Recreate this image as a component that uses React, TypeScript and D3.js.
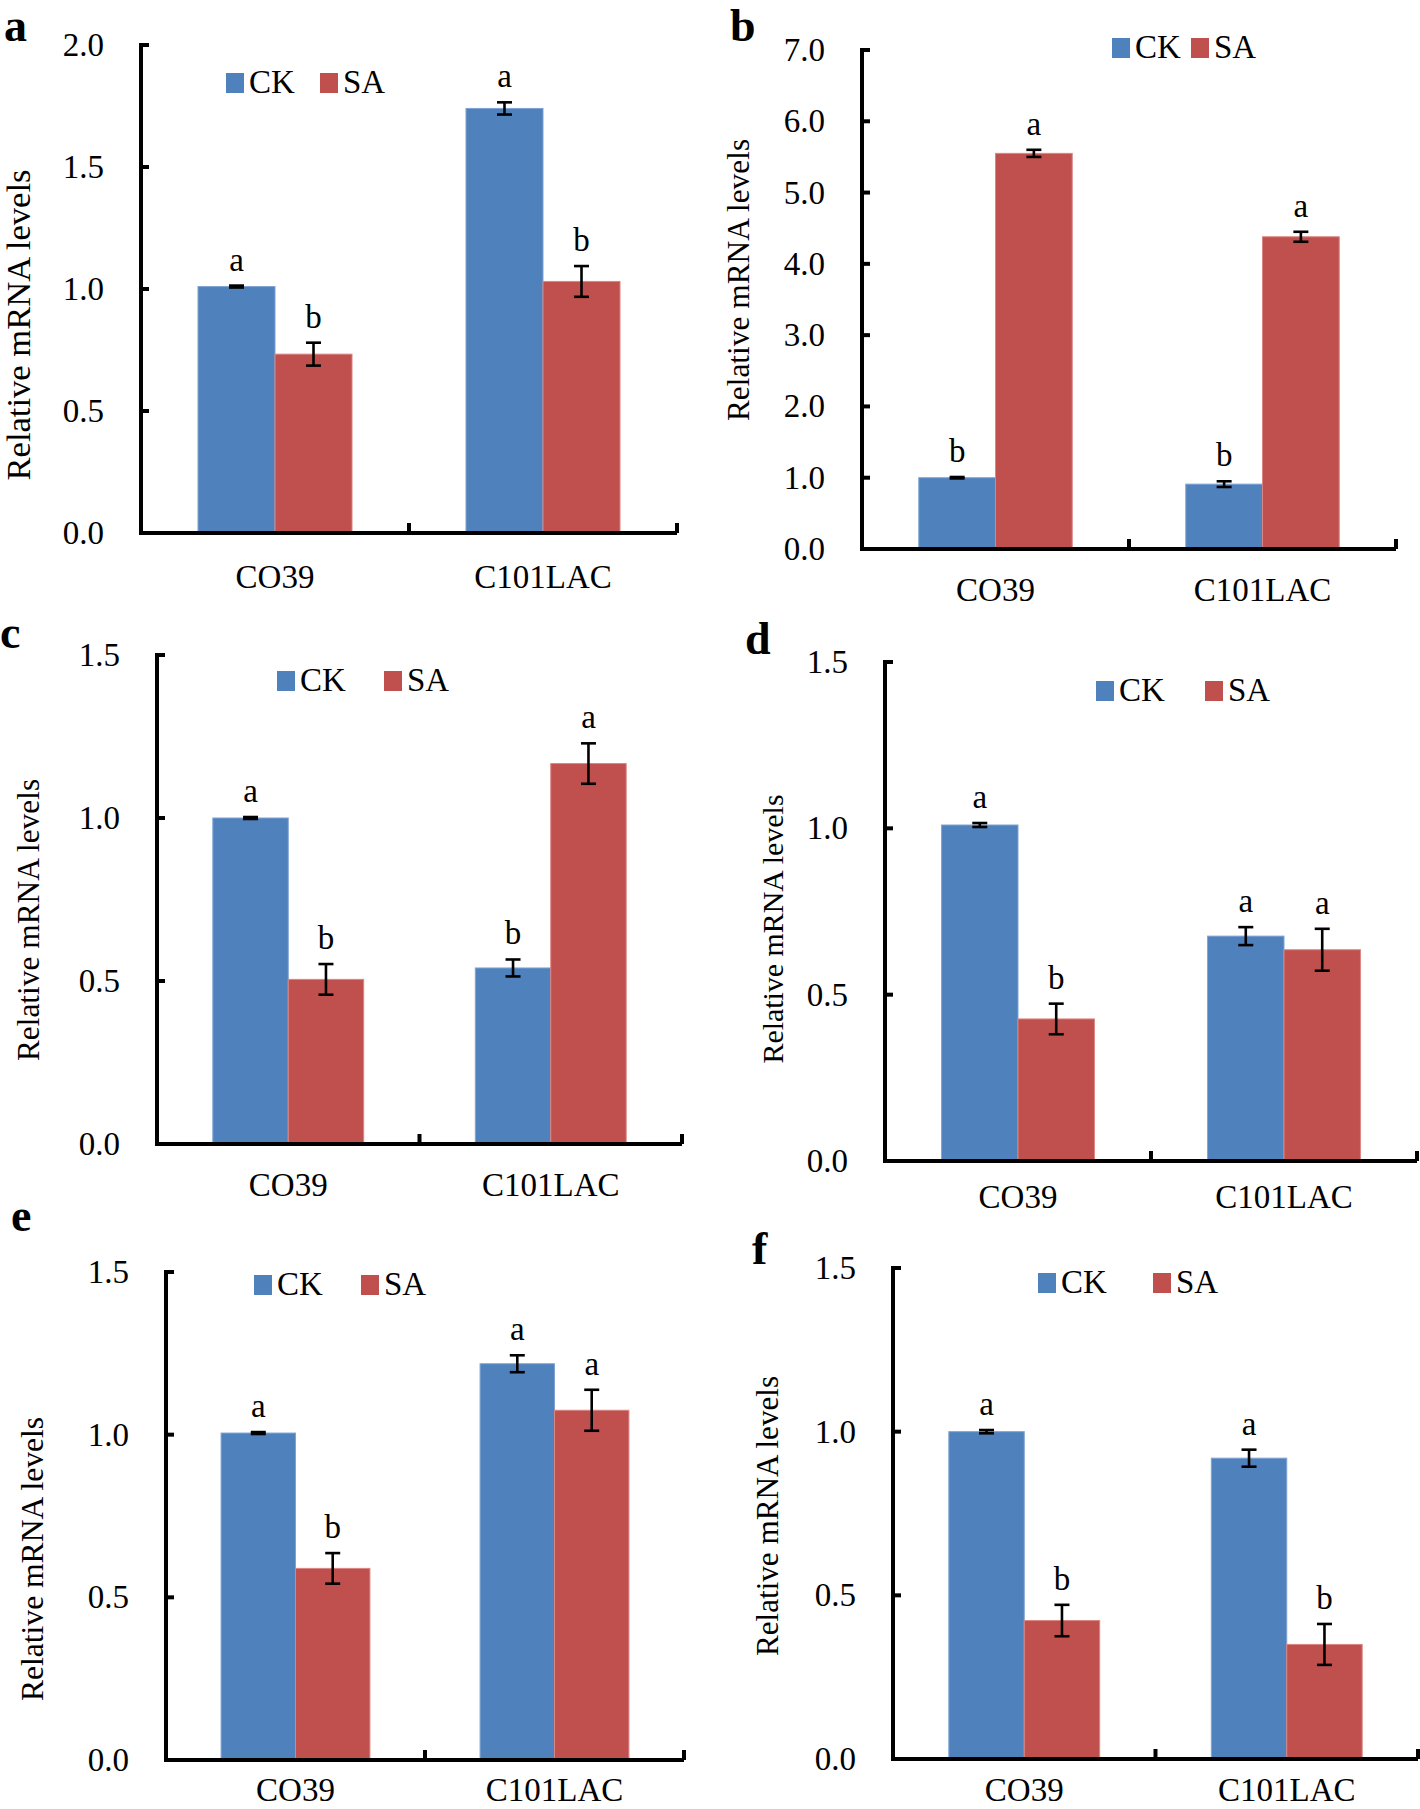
import React from "react";
import * as d3 from "d3";

// ---- data ----
const categories = ["CO39", "C101LAC"];
const seriesNames = ["CK", "SA"];
const panelLetters = ["a", "b", "c", "d", "e", "f"];
const yMaxes = [2.0, 7.0, 1.5, 1.5, 1.5, 1.5];
const yTickSteps = [0.5, 1.0, 0.5, 0.5, 0.5, 0.5];

const ckValues = [
  [1.01, 1.74],
  [1.0, 0.91],
  [1.0, 0.54],
  [1.01, 0.676],
  [1.005, 1.218],
  [1.0, 0.919],
];
const saValues = [
  [0.733, 1.031],
  [5.55, 4.38],
  [0.505, 1.167],
  [0.427, 0.635],
  [0.589, 1.075],
  [0.423, 0.35],
];
const ckErrors = [
  [0.004, 0.025],
  [0.01, 0.04],
  [0.003, 0.026],
  [0.006, 0.027],
  [0.003, 0.026],
  [0.005, 0.026],
];
const saErrors = [
  [0.047, 0.063],
  [0.05, 0.07],
  [0.047, 0.062],
  [0.046, 0.063],
  [0.047, 0.063],
  [0.048, 0.0625],
];
const ckSig = [
  ["a", "a"],
  ["b", "b"],
  ["a", "b"],
  ["a", "a"],
  ["a", "a"],
  ["a", "a"],
];
const saSig = [
  ["b", "b"],
  ["a", "a"],
  ["b", "a"],
  ["b", "a"],
  ["b", "a"],
  ["b", "b"],
];
const yAxisTitle = "Relative mRNA levels";

// ---- layout / style ----
const layouts = [
  { x0: 141, x1: 677, yTop: 45, yBot: 533, legX: 226, legGap: 94, legY: 93, letX: 4, letY: 41, labX: 29.5, labY: 325, labLen: 313, xLabDy: 55 },
  { x0: 862, x1: 1396, yTop: 50, yBot: 549, legX: 1112, legGap: 79, legY: 58, letX: 730, letY: 41, labX: 749, labY: 280, labLen: 284, xLabDy: 52 },
  { x0: 157, x1: 682, yTop: 655, yBot: 1144, legX: 277, legGap: 107, legY: 691, letX: 0, letY: 648, labX: 38.5, labY: 920, labLen: 284, xLabDy: 52 },
  { x0: 885, x1: 1417, yTop: 662, yBot: 1161, legX: 1096, legGap: 109, legY: 701, letX: 745, letY: 654, labX: 782.5, labY: 929, labLen: 271, xLabDy: 47 },
  { x0: 166, x1: 684, yTop: 1272, yBot: 1760, legX: 254, legGap: 107, legY: 1295, letX: 11, letY: 1231, labX: 43, labY: 1559, labLen: 286, xLabDy: 41 },
  { x0: 893, x1: 1418, yTop: 1268, yBot: 1759, legX: 1038, legGap: 115, legY: 1293, letX: 752, letY: 1264, labX: 778, labY: 1516, labLen: 282, xLabDy: 42 },
];

const FONT = "'Times New Roman', 'Liberation Serif', serif";
const COLORS: Record<string, string> = { CK: "#4F81BD", SA: "#C0504D" };
const EDGE: Record<string, string> = { CK: "#7FA3D3", SA: "#D98583" };

function Panel({ i }: { i: number }) {
  const L = layouts[i];
  const yMax = yMaxes[i];
  const step = yTickSteps[i];
  const y = d3.scaleLinear().domain([0, yMax]).range([L.yBot, L.yTop]);
  const x = d3.scaleBand<string>().domain(categories).range([L.x0, L.x1]).paddingInner(0).paddingOuter(0);
  const xs = d3
    .scaleBand<string>()
    .domain(seriesNames)
    .range([0, x.bandwidth()])
    .paddingInner(0)
    .paddingOuter(0.74);
  const ticks = d3.range(0, yMax + step / 2, step);
  const fmt = d3.format(".1f");

  const bars: any[] = [];
  categories.forEach((c, ci) => {
    seriesNames.forEach((s) => {
      const v = s === "CK" ? ckValues[i][ci] : saValues[i][ci];
      const e = s === "CK" ? ckErrors[i][ci] : saErrors[i][ci];
      const sig = s === "CK" ? ckSig[i][ci] : saSig[i][ci];
      bars.push({ c, s, v, e, sig, bx: (x(c) as number) + (xs(s) as number), bw: xs.bandwidth() });
    });
  });

  const capW = 7.5;
  const labFont = L.labLen / 9.055;

  return (
    <g>
      {bars.map((b, k) => (
        <rect
          key={"bar" + k}
          x={b.bx}
          y={y(b.v)}
          width={b.bw}
          height={y(0) - y(b.v)}
          fill={COLORS[b.s]}
          stroke={EDGE[b.s]}
          strokeWidth={1}
        />
      ))}
      {bars.map((b, k) => {
        const cx = b.bx + b.bw / 2;
        const yHi = y(b.v + b.e);
        const yLo = y(b.v - b.e);
        return (
          <g key={"err" + k} stroke="#000" strokeWidth={2.6}>
            <line x1={cx} x2={cx} y1={yHi} y2={yLo} />
            <line x1={cx - capW} x2={cx + capW} y1={yHi} y2={yHi} />
            <line x1={cx - capW} x2={cx + capW} y1={yLo} y2={yLo} />
          </g>
        );
      })}
      {bars.map((b, k) => (
        <text
          key={"sig" + k}
          x={b.bx + b.bw / 2}
          y={y(b.v + b.e) - 15}
          textAnchor="middle"
          fontFamily={FONT}
          fontSize={33}
          fill="#000"
        >
          {b.sig}
        </text>
      ))}
      <line x1={L.x0} x2={L.x0} y1={L.yTop - 2} y2={L.yBot + 2} stroke="#000" strokeWidth={4} />
      {ticks.map((t) => (
        <g key={"yt" + t}>
          <line x1={L.x0} x2={L.x0 + 8} y1={y(t)} y2={y(t)} stroke="#000" strokeWidth={4} />
          <text x={L.x0 - 37} y={y(t) + 11} textAnchor="end" fontFamily={FONT} fontSize={33} fill="#000">
            {fmt(t)}
          </text>
        </g>
      ))}
      <line x1={L.x0 - 2} x2={L.x1} y1={L.yBot} y2={L.yBot} stroke="#000" strokeWidth={4} />
      {categories.map((c) => (
        <line
          key={"xt" + c}
          x1={(x(c) as number) + x.bandwidth()}
          x2={(x(c) as number) + x.bandwidth()}
          y1={L.yBot}
          y2={L.yBot - 10}
          stroke="#000"
          strokeWidth={4}
        />
      ))}
      {categories.map((c) => (
        <text
          key={"xl" + c}
          x={(x(c) as number) + x.bandwidth() / 2}
          y={L.yBot + L.xLabDy}
          textAnchor="middle"
          fontFamily={FONT}
          fontSize={33}
          fill="#000"
        >
          {c}
        </text>
      ))}
      <text
        transform={`translate(${L.labX},${L.labY}) rotate(-90)`}
        textAnchor="middle"
        fontFamily={FONT}
        fontSize={labFont}
        fill="#000"
      >
        {yAxisTitle}
      </text>
      {seriesNames.map((s, si) => (
        <g key={"leg" + s}>
          <rect x={L.legX + si * L.legGap} y={L.legY - 20} width={18} height={20} fill={COLORS[s]} />
          <text x={L.legX + si * L.legGap + 23} y={L.legY} fontFamily={FONT} fontSize={33} fill="#000">
            {s}
          </text>
        </g>
      ))}
      <text x={L.letX} y={L.letY} fontFamily={FONT} fontWeight="bold" fontSize={46} fill="#000">
        {panelLetters[i]}
      </text>
    </g>
  );
}

export default function App() {
  return (
    <svg
      width={1420}
      height={1809}
      viewBox="0 0 1420 1809"
      style={{ position: "absolute", left: 0, top: 0, background: "#fff" }}
    >
      <rect x={0} y={0} width={1420} height={1809} fill="#fff" />
      {panelLetters.map((_, i) => (
        <Panel key={i} i={i} />
      ))}
    </svg>
  );
}
